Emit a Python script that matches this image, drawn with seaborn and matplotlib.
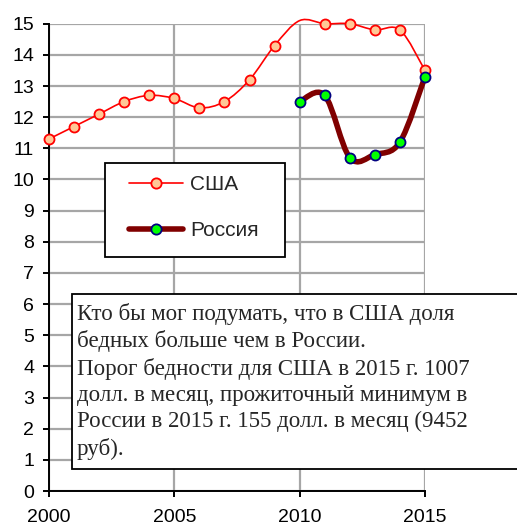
"""
Poverty rate USA vs Russia, Excel-like smoothed line chart.
"""
import numpy as np
import pandas as pd
import matplotlib
matplotlib.use('Agg')
import matplotlib.pyplot as plt
from matplotlib.path import Path
from matplotlib.patches import PathPatch, Rectangle
from matplotlib.lines import Line2D
import seaborn as sns

# --- Data ---
YEARS_USA = [2000, 2001, 2002, 2003, 2004, 2005, 2006, 2007,
             2008, 2009, 2010, 2011, 2012, 2013, 2014, 2015]
USA = [11.3, 11.7, 12.1, 12.5, 12.7, 12.6, 12.3, 12.5,
       13.2, 14.3, 15.1, 15.0, 15.0, 14.8, 14.8, 13.5]
YEARS_RUS = [2010, 2011, 2012, 2013, 2014, 2015]
RUSSIA = [12.5, 12.7, 10.7, 10.8, 11.2, 13.3]
LABELS = ['США', 'Россия']
X_TICKS = [2000, 2005, 2010, 2015]
Y_TICKS = list(range(0, 16))
NOTE = ("Кто бы мог подумать, что в США доля\n"
        "бедных больше чем в России.\n"
        "Порог бедности для США в 2015 г. 1007\n"
        "долл. в месяц, прожиточный минимум в\n"
        "России в 2015 г. 155 долл. в месяц (9452\n"
        "руб).")

W, H = 517, 525


def smooth_path(x, y):
    """Catmull-Rom style bezier path, like Excel's smoothed line."""
    pts = np.column_stack([x, y]).astype(float)
    n = len(pts)
    verts = [pts[0]]
    codes = [Path.MOVETO]
    for i in range(n - 1):
        p0 = pts[i - 1] if i > 0 else pts[i]
        p1, p2 = pts[i], pts[i + 1]
        p3 = pts[i + 2] if i + 2 < n else pts[i + 1]
        verts += [p1 + (p2 - p0) / 6, p2 - (p3 - p1) / 6, p2]
        codes += [Path.CURVE4] * 3
    return Path(verts, codes)


sns.set_style('white')
plt.rcParams['font.family'] = ['Liberation Sans', 'DejaVu Sans']

fig = plt.figure(figsize=(W / 100, H / 100), dpi=100)
ax = fig.add_axes([49 / W, 1 - 491 / H, (425 - 49) / W, (491 - 23.7) / H])

ax.set_xlim(2000, 2015)
ax.set_ylim(0, 15)
ax.set_xticks(X_TICKS)
ax.set_yticks(Y_TICKS)
ax.grid(True, color='#A6A6A6', lw=1.6)
ax.set_axisbelow(True)
for side in ['top', 'right']:
    ax.spines[side].set_visible(False)
for side in ['left', 'bottom']:
    ax.spines[side].set_color('black')
    ax.spines[side].set_linewidth(1.4)
ax.tick_params(axis='both', direction='out', length=4.3, width=1.4,
               color='black', labelsize=14, labelcolor='black')
ax.tick_params(axis='y', pad=6.5)
ax.tick_params(axis='x', pad=8.5)
ax.tick_params(left=True, bottom=True)

usa = pd.DataFrame({'year': YEARS_USA, 'value': USA})
rus = pd.DataFrame({'year': YEARS_RUS, 'value': RUSSIA})

# smoothed lines
ax.add_patch(PathPatch(smooth_path(usa['year'], usa['value']), fill=False,
                       edgecolor='#FF0000', lw=1.2, clip_on=False, zorder=3))
ax.add_patch(PathPatch(smooth_path(rus['year'], rus['value']), fill=False,
                       edgecolor='#800000', lw=4.0, clip_on=False, zorder=5,
                       capstyle='round', joinstyle='round'))

# markers (Excel hides markers outside the plot area)
usa_vis = usa[usa['value'] <= 15]
sns.scatterplot(data=usa_vis, x='year', y='value', ax=ax, marker='o', s=52,
                color='#FFC896', edgecolor='#FF0000', linewidth=1.3,
                clip_on=False, zorder=4, legend=False)
sns.scatterplot(data=rus, x='year', y='value', ax=ax, marker='o', s=52,
                color='#00FF00', edgecolor='#000080', linewidth=1.3,
                clip_on=False, zorder=6, legend=False)
ax.set_xlabel('')
ax.set_ylabel('')

# legend: frame drawn separately so the padding matches the reference
fig.patches.append(Rectangle((105 / W, 1 - 257 / H), (285 - 105) / W,
                             (257 - 163) / H, transform=fig.transFigure,
                             facecolor='white', edgecolor='black', lw=1.3,
                             zorder=2))
handles = [
    Line2D([], [], color='#FF0000', lw=1.2, marker='o', ms=7.4,
           mfc='#FFC896', mec='#FF0000', mew=1.3),
    Line2D([], [], color='#800000', lw=4.0, marker='o', ms=7.4,
           mfc='#00FF00', mec='#000080', mew=1.3, solid_capstyle='round'),
]
fig.legend(handles, LABELS, loc='center left',
           bbox_to_anchor=(129 / W, 1 - 207.5 / H), borderaxespad=0,
           borderpad=0, fontsize=15, handlelength=2.6, handletextpad=0.34,
           labelspacing=1.3, frameon=False)

# note box
fig.patches.append(Rectangle((72.3 / W, 1 - 469 / H), (530 - 72.3) / W,
                             (469 - 294) / H, transform=fig.transFigure,
                             facecolor='white', edgecolor='black', lw=1.3,
                             zorder=10))
fig.text(76.7 / W, 1 - 303 / H, NOTE, family=['Liberation Serif', 'DejaVu Serif'],
         fontsize=16.5, va='top', ha='left', linespacing=1.32,
         zorder=11)

fig.savefig('out.png', dpi=100)
